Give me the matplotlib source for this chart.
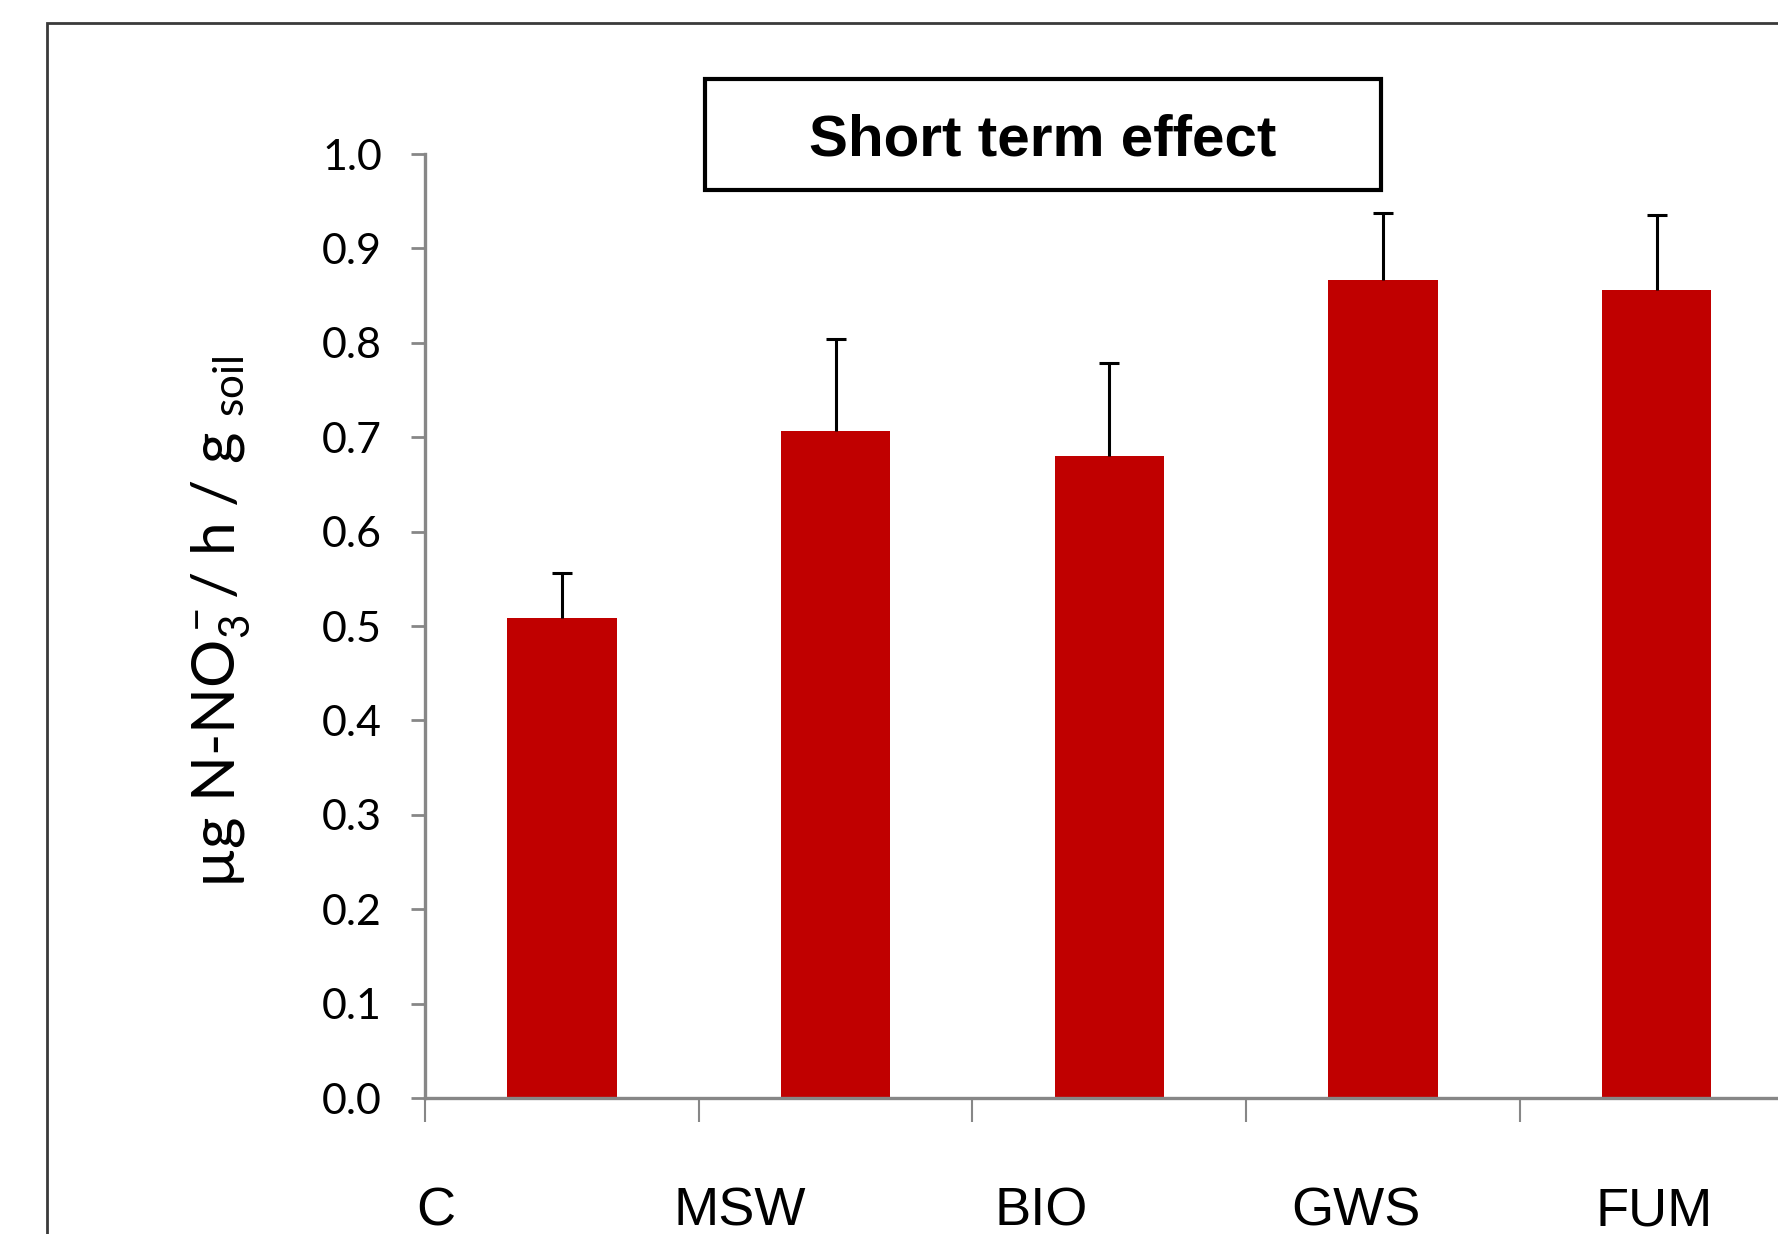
import matplotlib
matplotlib.use("Agg")
import matplotlib.pyplot as plt
import numpy as np
from matplotlib.patches import Rectangle

# nitrate production per treatment, short term
treatments = ["C", "MSW", "BIO", "GWS", "FUM"]
nitrate = [0.508, 0.707, 0.680, 0.866, 0.856]
nitrate_se = [0.048, 0.097, 0.099, 0.071, 0.079]
label_pos = [-0.46, 0.65, 1.75, 2.90, 3.99]
yticks = [0.0, 0.1, 0.2, 0.3, 0.4, 0.5, 0.6, 0.7, 0.8, 0.9, 1.0]

plt.rcParams['mathtext.fontset'] = 'custom'
plt.rcParams['mathtext.rm'] = 'Lato'
plt.rcParams['mathtext.it'] = 'Lato'

W, H = 1778, 1234
fig = plt.figure(figsize=(W/100, H/100), dpi=100)

# axes placed in pixel terms
left, right = 425, 1793.5
bottom, top = 1098, 154
ax = fig.add_axes([left/W, 1 - bottom/H, (right-left)/W, (bottom-top)/H])

grey = '#878787'
x = np.arange(len(treatments))
ax.bar(x, nitrate, width=0.4, color='#C00000', zorder=2)
eb = ax.errorbar(x, nitrate, yerr=[np.zeros(len(x)), nitrate_se], fmt='none',
                 ecolor='black', elinewidth=2.2, capsize=7.5, capthick=2.2, zorder=3)
# only the upper whisker gets a cap
eb[1][0].set_visible(False)

ax.set_xlim(-0.5, 4.5)
ax.set_ylim(0, 1.0)
ax.set_yticks(yticks)
ax.set_yticklabels(["%.1f" % v for v in yticks], fontfamily='Lato', fontsize=31)
ax.set_xticks(np.arange(-0.5, 5.0, 1.0))
ax.set_xticklabels([])

for s in ['top', 'right']:
    ax.spines[s].set_visible(False)
for s in ['left', 'bottom']:
    ax.spines[s].set_color(grey)
    ax.spines[s].set_linewidth(2.4)
ax.tick_params(axis='y', direction='out', length=10, width=2, color=grey, pad=21)
ax.tick_params(axis='x', direction='out', length=17, width=1.5, color=grey)

# category labels sit off the tick marks
for xp, name in zip(label_pos, treatments):
    ax.text(xp, -0.1355, name, transform=ax.get_xaxis_transform(),
            ha='center', va='baseline', fontsize=39, fontfamily='Liberation Sans')

ax.text(-0.149, 0.505, r"µg N-NO$_3^-$/ h / g $_{soil}$", transform=ax.transAxes,
        rotation=90, ha='center', va='center', fontsize=43.5, fontfamily='Lato')

# title box
fig.patches.append(Rectangle((705/W, 1 - 190/H), (1381-705)/W, (190-79)/H,
                             transform=fig.transFigure, facecolor='white',
                             edgecolor='black', linewidth=3))
fig.text(1043/W, 1 - 140/H, "Short term effect", ha='center', va='center',
         fontsize=42, fontweight='bold', fontfamily='Liberation Sans')

# outer frame
fig.patches.append(Rectangle((47/W, -0.2), 1.3, 1.2 - 23/H, transform=fig.transFigure,
                             facecolor='none', edgecolor='#3a3a3a', linewidth=2))

fig.savefig('out.png', dpi=100)
